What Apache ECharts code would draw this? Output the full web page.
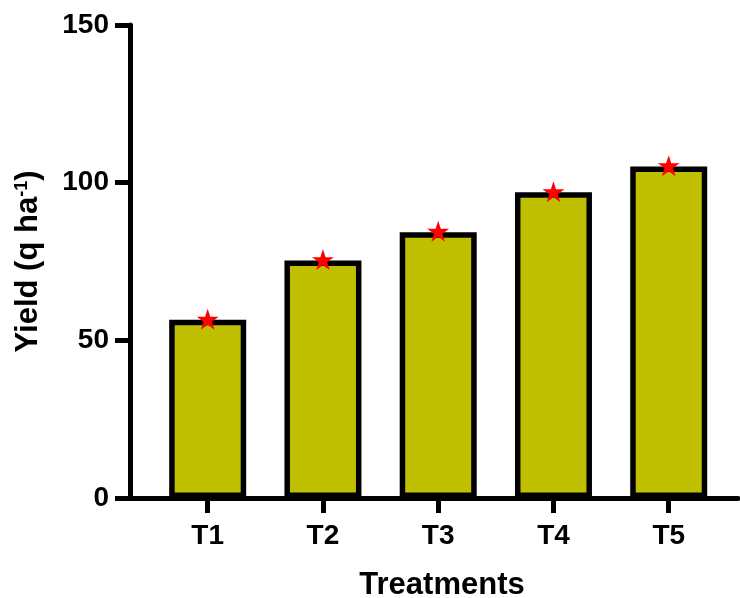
<!DOCTYPE html>
<html>
<head>
<meta charset="utf-8">
<script src="https://cdn.jsdelivr.net/npm/echarts@6/dist/echarts.min.js"></script>
<style>
html,body{margin:0;padding:0;background:#fff;}
#chart{width:740px;height:598px;}
</style>
</head>
<body>
<div id="chart"></div>
<script>
var categories = ['T1', 'T2', 'T3', 'T4', 'T5'];
var yieldBars = [56.5, 75.3, 84.3, 97.0, 105.1];
var yieldStars = [56.7, 75.6, 84.6, 97.1, 105.4];
var yTicks = [0, 50, 100, 150];

var positions = categories.map(function (c, i) { return i + 1; });
var barData = positions.map(function (p, i) { return [p, yieldBars[i]]; });
var starData = positions.map(function (p, i) { return [p, yieldStars[i]]; });

// five-pointed star outline (outer radius 100, inner radius 38.2)
var starPath = 'path://M0,-100L22.45,-30.9L95.11,-30.9L36.33,11.8L58.78,80.9L0,38.2L-58.78,80.9L-36.33,11.8L-95.11,-30.9L-22.45,-30.9Z';

var font = '"Liberation Sans", Arial, sans-serif';
var chart = echarts.init(document.getElementById('chart'), null, {renderer: 'canvas'});
chart.setOption({
  animation: false,
  backgroundColor: '#ffffff',
  grid: {left: 130, right: 2, top: 25, bottom: 100, containLabel: false, outerBoundsMode: 'none'},
  xAxis: {
    type: 'value',
    min: 0.326,
    max: 5.601,
    name: 'Treatments',
    nameLocation: 'middle',
    nameGap: 72,
    nameTextStyle: {fontFamily: font, fontWeight: 'bold', fontSize: 31, color: '#000', padding: [0, 0, 0, 16]},
    axisLine: {show: true, lineStyle: {color: '#000', width: 5}},
    axisTick: {show: true, length: 15, lineStyle: {color: '#000', width: 5}, customValues: positions},
    axisLabel: {
      show: true, margin: 24, fontFamily: font, fontWeight: 'bold', fontSize: 28, color: '#000',
      customValues: positions,
      formatter: function (v) { return categories[Math.round(v) - 1] || ''; }
    },
    splitLine: {show: false}
  },
  yAxis: {
    type: 'value',
    min: yTicks[0],
    max: yTicks[yTicks.length - 1],
    interval: 50,
    name: '{t|Yield (q ha}{s|-1}{t|)}',
    nameLocation: 'middle',
    nameGap: 86,
    nameRotate: 90,
    nameTextStyle: {
      fontFamily: font, fontWeight: 'bold', fontSize: 31, color: '#000',
      rich: {
        t: {fontFamily: font, fontWeight: 'bold', fontSize: 31, color: '#000'},
        s: {fontFamily: font, fontWeight: 'bold', fontSize: 18, color: '#000', verticalAlign: 'top'}
      }
    },
    axisLine: {show: true, lineStyle: {color: '#000', width: 5}},
    axisTick: {show: true, length: 15, lineStyle: {color: '#000', width: 5}},
    axisLabel: {margin: 21, fontFamily: font, fontWeight: 'bold', fontSize: 28, color: '#000', padding: [10, 0, 0, 0]},
    splitLine: {show: false}
  },
  series: [
    {
      type: 'bar',
      data: barData,
      barWidth: 77,
      itemStyle: {color: '#c0c000', borderColor: '#000', borderWidth: 5.5},
      z: 2
    },
    {
      type: 'scatter',
      data: starData,
      symbol: starPath,
      symbolSize: [22, 21],
      itemStyle: {color: '#ff0000', opacity: 1},
      z: 5
    }
  ]
});
</script>
</body>
</html>
